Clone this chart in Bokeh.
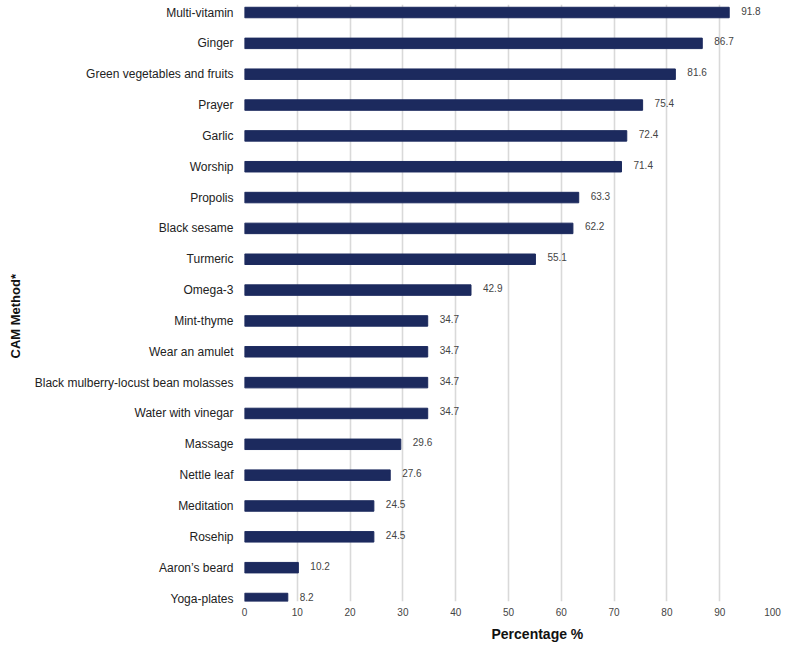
from bokeh.plotting import figure
from bokeh.models import ColumnDataSource, Range1d, FixedTicker, LabelSet, Title
from bokeh.core.properties import value
from bokeh.embed import file_html
from bokeh.resources import INLINE

methods = ["Multi-vitamin", "Ginger", "Green vegetables and fruits", "Prayer", "Garlic",
           "Worship", "Propolis", "Black sesame", "Turmeric", "Omega-3", "Mint-thyme",
           "Wear an amulet", "Black mulberry-locust bean molasses", "Water with vinegar",
           "Massage", "Nettle leaf", "Meditation", "Rosehip", "Aaron\u2019s beard", "Yoga-plates"]
percentages = [91.8, 86.7, 81.6, 75.4, 72.4, 71.4, 63.3, 62.2, 55.1, 42.9, 34.7,
               34.7, 34.7, 34.7, 29.6, 27.6, 24.5, 24.5, 10.2, 8.2]
x_ticks = [0, 10, 20, 30, 40, 50, 60, 70, 80, 90, 100]

n = len(methods)
ypos = [n - 1 - i for i in range(n)]
src = ColumnDataSource(dict(y=ypos, v=percentages, lab=[f"{v:.1f}" for v in percentages], m=methods))

FONT = "Liberation Sans"
BAR = "#1c2a5e"

p = figure(width=783, height=647, output_backend="svg", toolbar_location=None,
           x_range=Range1d(0, 100), y_range=Range1d(-0.097, n - 1 + 0.26),
           min_border_left=244, min_border_right=11, min_border_top=4, min_border_bottom=46)
p.outline_line_color = None
p.background_fill_color = "white"
p.border_fill_color = "white"

p.hbar(y="y", right="v", left=0, height=0.34, source=src, color=BAR)

p.add_layout(LabelSet(x="v", y="y", text="lab", source=src, x_offset=12, y_offset=2,
                      text_font=value(FONT), text_font_size="10px", text_color="#444444",
                      text_baseline="middle", text_align="left"))

# x axis
p.xaxis.ticker = FixedTicker(ticks=x_ticks)
p.xaxis.axis_line_color = None
p.xaxis.major_tick_line_color = None
p.xaxis.minor_tick_line_color = None
p.xaxis.major_tick_out = 0
p.xaxis.major_tick_in = 0
p.xaxis.major_label_text_font = FONT
p.xaxis.major_label_text_font_size = "10px"
p.xaxis.major_label_text_color = "#444444"
p.xaxis.major_label_standoff = 6

# y axis
p.yaxis.ticker = FixedTicker(ticks=ypos)
p.yaxis.major_label_overrides = {y: m for y, m in zip(ypos, methods)}
p.yaxis.axis_line_color = None
p.yaxis.major_tick_line_color = None
p.yaxis.minor_tick_line_color = None
p.yaxis.major_tick_out = 0
p.yaxis.major_tick_in = 0
p.yaxis.major_label_text_font = FONT
p.yaxis.major_label_text_font_size = "12px"
p.yaxis.major_label_text_color = "#222222"
p.yaxis.major_label_standoff = 11

p.xgrid.ticker = FixedTicker(ticks=x_ticks)
p.xgrid.grid_line_color = "#d9d9d9"
p.xgrid.grid_line_width = 1.6
p.ygrid.grid_line_color = None

p.add_layout(Title(text="Percentage %", align="left", offset=247, standoff=11,
                   text_font=FONT, text_font_size="14px", text_font_style="bold",
                   text_color="#111111"), "below")
p.add_layout(Title(text="CAM Method*", align="left", offset=243, standoff=14,
                   vertical_align="top",
                   text_font=FONT, text_font_size="13px", text_font_style="bold",
                   text_color="#111111"), "left")

open("out.html", "w").write(file_html(p, INLINE))
